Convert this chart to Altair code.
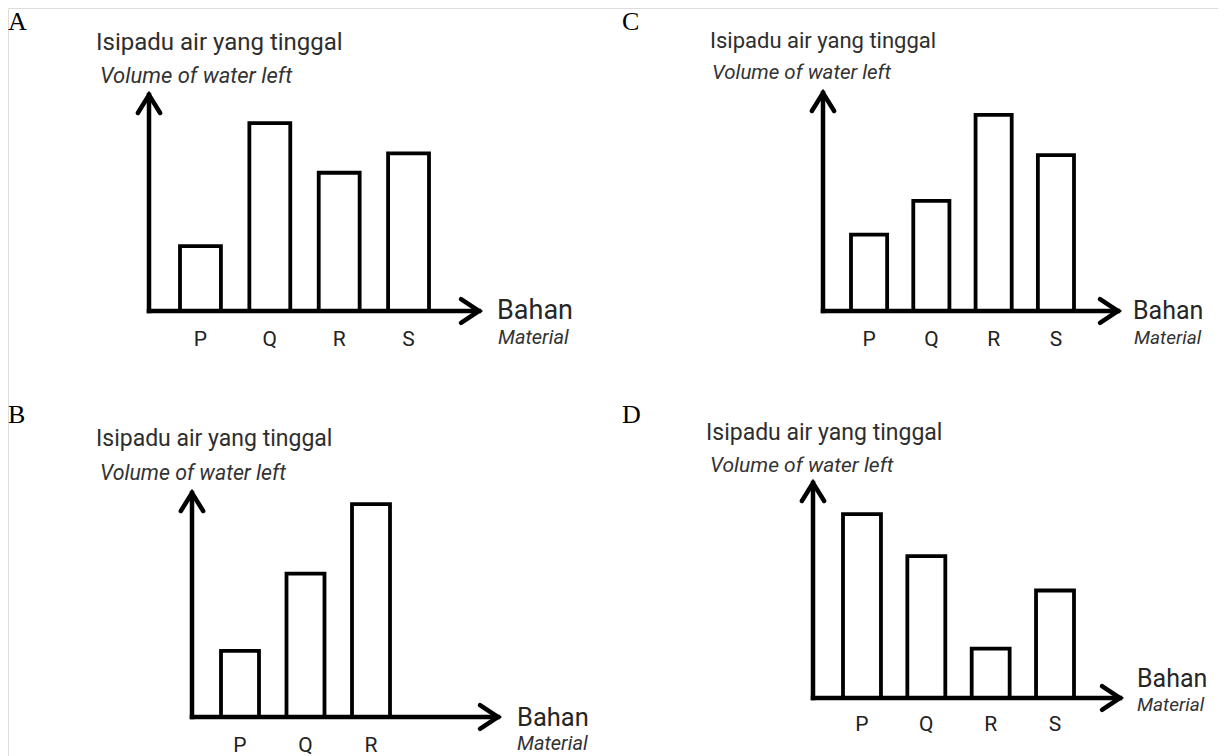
import altair as alt
import pandas as pd

# ---------------- data ----------------
cats_A = ["P", "Q", "R", "S"]
vals_A = [3.0, 8.7, 6.4, 7.3]
cats_B = ["P", "Q", "R"]
vals_B = [2.95, 6.4, 9.5]
cats_C = ["P", "Q", "R", "S"]
vals_C = [3.5, 5.05, 9.0, 7.15]
cats_D = ["P", "Q", "R", "S"]
vals_D = [8.55, 6.6, 2.3, 5.0]

title_ms = "Isipadu air yang tinggal"
title_en = "Volume of water left"
xlab_ms = "Bahan"
xlab_en = "Material"

ONE = pd.DataFrame({"k": [0]})
M = 8  # page margin


def c(v):
    return v - M


def txt(s, x, y, size, italic=False, font="Roboto", color="#262626"):
    return alt.Chart(ONE).mark_text(
        text=s, font=font, fontSize=size,
        fontStyle="italic" if italic else "normal",
        color=color, align="left", baseline="alphabetic",
    ).encode(x=alt.value(c(x)), y=alt.value(c(y)))


UP = "M-0.62,1L0,0L0.62,1"
RIGHT = "M-1,-0.66L0,0L-1,0.66"


def panel(letter, cats, vals, L):
    df = pd.DataFrame({"cat": cats, "val": vals})
    a, b, p = L["band"]
    xs = alt.Scale(domain=cats, range=[c(a), c(b)], paddingInner=p, paddingOuter=0)
    ys = alt.Scale(domain=[0, 10], range=[c(L["base"]), c(L["tip_y"])], nice=False, zero=True)
    bars = alt.Chart(df).mark_bar(
        fill="white", stroke="black", strokeWidth=3.8, strokeJoin="miter"
    ).encode(
        x=alt.X("cat:N", scale=xs, axis=None, sort=cats),
        y=alt.Y("val:Q", scale=ys, axis=None),
    )
    labels = alt.Chart(df).mark_text(
        font="Roboto", fontSize=L["lab_size"], color="#222222", baseline="alphabetic"
    ).encode(
        x=alt.X("cat:N", scale=xs, axis=None, sort=cats),
        y=alt.value(c(L["lab_y"])),
        text="cat:N",
    )
    core = alt.layer(bars, labels)
    ax = L["axis_x"]
    yaxis = alt.Chart(ONE).mark_rule(color="black", strokeWidth=4.5, strokeCap="square").encode(
        x=alt.value(c(ax)), y=alt.value(c(L["tip_y"])), y2=alt.value(c(L["base"]))
    )
    xaxis = alt.Chart(ONE).mark_rule(color="black", strokeWidth=4.5, strokeCap="square").encode(
        x=alt.value(c(ax)), x2=alt.value(c(L["tip_x"])), y=alt.value(c(L["base"]))
    )
    up = alt.Chart(ONE).mark_point(
        shape=UP, size=1296, filled=False, color="black", strokeWidth=4.5,
        opacity=1, strokeCap="round", strokeJoin="miter",
    ).encode(x=alt.value(c(ax)), y=alt.value(c(L["tip_y"])))
    right = alt.Chart(ONE).mark_point(
        shape=RIGHT, size=1296, filled=False, color="black", strokeWidth=4.5,
        opacity=1, strokeCap="round", strokeJoin="miter",
    ).encode(x=alt.value(c(L["tip_x"])), y=alt.value(c(L["base"])))
    lx, ly = L["letter"]
    t = L["title"]
    s = L["sub"]
    bh = L["bahan"]
    mt = L["mat"]
    texts = [
        txt(letter, lx, ly, 26, font="Liberation Serif", color="black"),
        txt(title_ms, t[0], t[1], t[2], color="#2e2e2e"),
        txt(title_en, s[0], s[1], s[2], italic=True, color="#333333"),
        txt(xlab_ms, bh[0], bh[1], bh[2], color="#262626"),
        txt(xlab_en, mt[0], mt[1], mt[2], italic=True, color="#333333"),
    ]
    return [core, yaxis, xaxis, up, right] + texts


LA = dict(axis_x=149, tip_y=95, base=311, tip_x=479, band=(180, 429, 0.41), lab_y=346, lab_size=21,
          letter=(8, 30), title=(96, 50, 24), sub=(100, 83, 22), bahan=(497, 319, 27), mat=(498, 344, 20))
LC = dict(axis_x=823, tip_y=93, base=311, tip_x=1118, band=(851, 1074, 0.42), lab_y=346, lab_size=21,
          letter=(622, 30), title=(710, 48, 22), sub=(712, 79, 20.5), bahan=(1133, 319, 25), mat=(1134, 344, 19))
LB = dict(axis_x=192, tip_y=493, base=717, tip_x=498, band=(221, 390, 0.42), lab_y=752, lab_size=21,
          letter=(8, 423), title=(96, 446, 23), sub=(100, 480, 21.3), bahan=(517, 726, 25.5), mat=(517, 750, 20))
LD = dict(axis_x=813, tip_y=483, base=698, tip_x=1120, band=(843, 1074, 0.41), lab_y=731, lab_size=21,
          letter=(622, 423), title=(706, 440, 23), sub=(710, 472, 21), bahan=(1137, 687, 25), mat=(1137, 711, 19))

layers = []
layers += panel("A", cats_A, vals_A, LA)
layers += panel("C", cats_C, vals_C, LC)
layers += panel("B", cats_B, vals_B, LB)
layers += panel("D", cats_D, vals_D, LD)

chart = alt.layer(*layers).resolve_scale(
    x="independent", y="independent"
).properties(
    width=1210, height=748, padding=0,
    autosize=alt.AutoSizeParams(type="none"),
).configure_view(stroke="transparent", strokeWidth=0).configure(background="white")

chart.save("out.html", embed_options={"renderer": "svg", "actions": False})
